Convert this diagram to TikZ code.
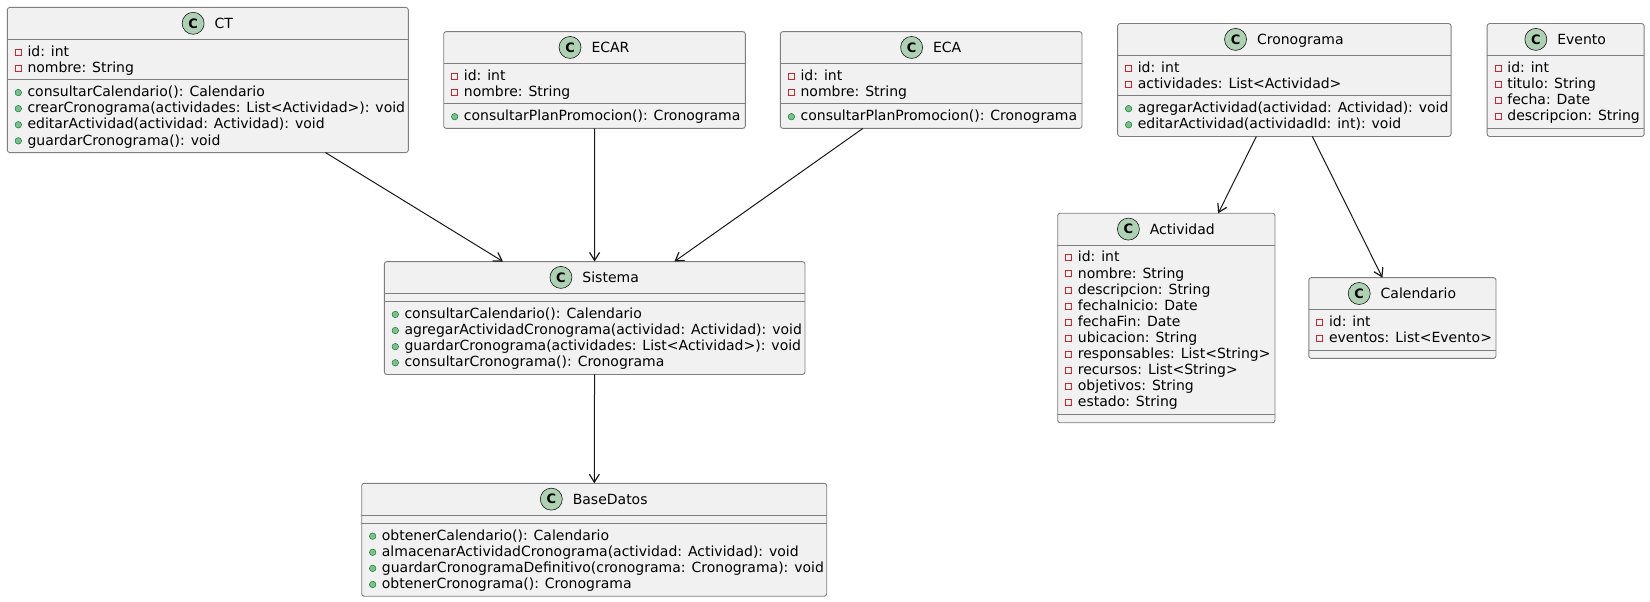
\documentclass[tikz,border=0pt]{standalone}
\usepackage{fontspec}
\setmainfont{DejaVu Sans}
\usetikzlibrary{positioning,arrows.meta}

\definecolor{boxfill}{HTML}{F1F1F1}
\definecolor{boxline}{HTML}{7E7E7E}
\definecolor{linecol}{HTML}{181818}
\definecolor{iconfill}{HTML}{ADD1B2}
\definecolor{privred}{HTML}{C82930}
\definecolor{pubgreen}{HTML}{84BE84}
\definecolor{pubdark}{HTML}{038048}

\begin{document}
\begin{tikzpicture}[x=1pt,y=-1pt,
  font=\fontsize{14pt}{16.1pt}\selectfont,
  classbox/.style={rectangle, draw=boxline, line width=0.9pt, fill=boxfill,
    rounded corners=2.5pt, inner sep=0pt, outer sep=0pt},
  sepline/.style={draw=boxline, line width=0.9pt},
  title/.style={anchor=base, inner sep=0pt, text height=13.2pt, text depth=3pt},
  cicon/.style={circle, draw=linecol, line width=0.6pt, fill=iconfill,
    minimum size=22pt, inner sep=0pt, font=\bfseries\fontsize{13pt}{13pt}\selectfont},
  member/.style={anchor=base west, inner sep=0pt, text height=11.4pt, text depth=3pt},
  privmark/.style={rectangle, draw=privred, line width=0.8pt, minimum size=6pt, inner sep=0pt},
  pubmark/.style={circle, draw=pubdark, line width=0.5pt, fill=pubgreen, minimum size=6.5pt, inner sep=0pt},
  priv/.style={member, label={[privmark, label distance=5.75pt]left:}},
  pub/.style={member, label={[pubmark, label distance=5.5pt]left:}},
  assoc/.style={draw=linecol, line width=1pt, -{Straight Barb[length=8pt,width=10pt,line width=1.2pt]}}]

\useasboundingbox (0,0) rectangle (1650,602);

% CT
\node[classbox, minimum width=401pt, minimum height=145.1pt] at (207.8,80) (ct) {};
\draw[sepline] (7.3,39.15) -- (408.3,39.15);
\draw[sepline] (7.3,79.75) -- (408.3,79.75);
\node[title] at (223.8,28.4) (ct-t) {CT};
\node[cicon, left=10pt of ct-t] (ct-c) {C};
\node[priv] at (27.3,56.15) (ct-a1) {id: int};
\node[priv] at (27.3,72.25) (ct-a2) {nombre: String};
\node[pub]  at (27.3,96.75)  (ct-m1) {consultarCalendario(): Calendario};
\node[pub]  at (27.3,112.85) (ct-m2) {crearCronograma(actividades: List<Actividad>): void};
\node[pub]  at (27.3,128.95) (ct-m3) {editarActividad(actividad: Actividad): void};
\node[pub]  at (27.3,145.05) (ct-m4) {guardarCronograma(): void};

% ECAR
\node[classbox, minimum width=301.6pt, minimum height=96.8pt] at (594.5,80) (ecar) {};
\draw[sepline] (443.7,63.3) -- (745.3,63.3);
\draw[sepline] (443.7,103.9) -- (745.3,103.9);
\node[title] at (610.5,52.55) (ecar-t) {ECAR};
\node[cicon, left=10pt of ecar-t] (ecar-c) {C};
\node[priv] at (463.7,80.3) (ecar-a1) {id: int};
\node[priv] at (463.7,96.4) (ecar-a2) {nombre: String};
\node[pub]  at (463.7,120.9) (ecar-m1) {consultarPlanPromocion(): Cronograma};

% ECA
\node[classbox, minimum width=301.6pt, minimum height=96.8pt] at (931.2,80) (eca) {};
\draw[sepline] (780.4,63.3) -- (1082.0,63.3);
\draw[sepline] (780.4,103.9) -- (1082.0,103.9);
\node[title] at (947.2,52.55) (eca-t) {ECA};
\node[cicon, left=10pt of eca-t] (eca-c) {C};
\node[priv] at (800.4,80.3) (eca-a1) {id: int};
\node[priv] at (800.4,96.4) (eca-a2) {nombre: String};
\node[pub]  at (800.4,120.9) (eca-m1) {consultarPlanPromocion(): Cronograma};

% Cronograma
\node[classbox, minimum width=333.5pt, minimum height=112.9pt] at (1284.35,80) (crono) {};
\draw[sepline] (1117.6,55.25) -- (1451.1,55.25);
\draw[sepline] (1117.6,95.85) -- (1451.1,95.85);
\node[title] at (1300.35,44.5) (crono-t) {Cronograma};
\node[cicon, left=10pt of crono-t] (crono-c) {C};
\node[priv] at (1137.6,72.25) (crono-a1) {id: int};
\node[priv] at (1137.6,88.35) (crono-a2) {actividades: List<Actividad>};
\node[pub]  at (1137.6,112.85) (crono-m1) {agregarActividad(actividad: Actividad): void};
\node[pub]  at (1137.6,128.95) (crono-m2) {editarActividad(actividadId: int): void};

% Evento
\node[classbox, minimum width=157pt, minimum height=112.9pt] at (1565.65,80) (evento) {};
\draw[sepline] (1487.15,55.25) -- (1644.15,55.25);
\draw[sepline] (1487.15,128.05) -- (1644.15,128.05);
\node[title] at (1581.65,44.5) (evento-t) {Evento};
\node[cicon, left=10pt of evento-t] (evento-c) {C};
\node[priv] at (1507.15,72.25)  (evento-a1) {id: int};
\node[priv] at (1507.15,88.35)  (evento-a2) {titulo: String};
\node[priv] at (1507.15,104.45) (evento-a3) {fecha: Date};
\node[priv] at (1507.15,120.55) (evento-a4) {descripcion: String};

% Sistema
\node[classbox, minimum width=420.7pt, minimum height=112.9pt] at (594.65,318) (sis) {};
\draw[sepline] (384.3,293.25) -- (805.0,293.25);
\draw[sepline] (384.3,301.65) -- (805.0,301.65);
\node[title] at (610.65,282.5) (sis-t) {Sistema};
\node[cicon, left=10pt of sis-t] (sis-c) {C};
\node[pub] at (404.3,318.65) (sis-m1) {consultarCalendario(): Calendario};
\node[pub] at (404.3,334.75) (sis-m2) {agregarActividadCronograma(actividad: Actividad): void};
\node[pub] at (404.3,350.85) (sis-m3) {guardarCronograma(actividades: List<Actividad>): void};
\node[pub] at (404.3,366.95) (sis-m4) {consultarCronograma(): Cronograma};

% BaseDatos
\node[classbox, minimum width=465pt, minimum height=112.9pt] at (594.2,539.75) (bd) {};
\draw[sepline] (361.7,515.0) -- (826.7,515.0);
\draw[sepline] (361.7,523.4) -- (826.7,523.4);
\node[title] at (610.2,504.25) (bd-t) {BaseDatos};
\node[cicon, left=10pt of bd-t] (bd-c) {C};
\node[pub] at (381.7,540.4) (bd-m1) {obtenerCalendario(): Calendario};
\node[pub] at (381.7,556.5) (bd-m2) {almacenarActividadCronograma(actividad: Actividad): void};
\node[pub] at (381.7,572.6) (bd-m3) {guardarCronogramaDefinitivo(cronograma: Cronograma): void};
\node[pub] at (381.7,588.7) (bd-m4) {obtenerCronograma(): Cronograma};

% Actividad
\node[classbox, minimum width=217.3pt, minimum height=209.5pt] at (1166.35,318) (act) {};
\draw[sepline] (1057.7,244.95) -- (1275.0,244.95);
\draw[sepline] (1057.7,414.35) -- (1275.0,414.35);
\node[title] at (1182.35,234.2) (act-t) {Actividad};
\node[cicon, left=10pt of act-t] (act-c) {C};
\node[priv] at (1077.7,261.95) (act-a1)  {id: int};
\node[priv] at (1077.7,278.05) (act-a2)  {nombre: String};
\node[priv] at (1077.7,294.15) (act-a3)  {descripcion: String};
\node[priv] at (1077.7,310.25) (act-a4)  {fechaInicio: Date};
\node[priv] at (1077.7,326.35) (act-a5)  {fechaFin: Date};
\node[priv] at (1077.7,342.45) (act-a6)  {ubicacion: String};
\node[priv] at (1077.7,358.55) (act-a7)  {responsables: List<String>};
\node[priv] at (1077.7,374.65) (act-a8)  {recursos: List<String>};
\node[priv] at (1077.7,390.75) (act-a9)  {objetivos: String};
\node[priv] at (1077.7,406.85) (act-a10) {estado: String};

% Calendario
\node[classbox, minimum width=187.2pt, minimum height=80.7pt] at (1402.4,318) (cal) {};
\draw[sepline] (1308.8,309.35) -- (1496.0,309.35);
\draw[sepline] (1308.8,349.95) -- (1496.0,349.95);
\node[title] at (1418.4,298.6) (cal-t) {Calendario};
\node[cicon, left=10pt of cal-t] (cal-c) {C};
\node[priv] at (1328.8,326.35) (cal-a1) {id: int};
\node[priv] at (1328.8,342.45) (cal-a2) {eventos: List<Evento>};

\draw[assoc] (ct) -- (sis);
\draw[assoc] (ecar) -- (sis);
\draw[assoc] (eca) -- (sis);
\draw[assoc] (sis) -- (bd);

\draw[assoc] (crono) -- (act);
\draw[assoc] (crono) -- (cal);

\end{tikzpicture}
\end{document}
